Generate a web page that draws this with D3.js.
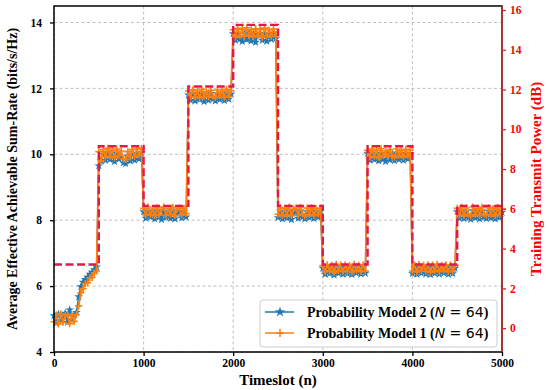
<!doctype html>
<html>

<head>
  <meta charset="utf-8">
  <title>d3</title>
  <style>
    body { margin: 0; background: #fff; }
    svg text { font-family: "Liberation Serif", "Times New Roman", serif; font-weight: bold; }
  </style>
</head>

<body>
  <svg width="549" height="390"></svg>

  <script src="https://d3js.org/d3.v7.min.js"></script>
  <script>
    // timeslots sampled every 25 slots
    const timeslots = d3.range(0, 5001, 25);

    // Probability Model 2 (blue)
    const model2 = [
      5.10, 4.88, 5.15, 4.95, 5.06, 5.18, 4.90, 5.28, 4.97, 5.12, 5.20, 5.68, 5.98, 6.12, 6.20, 6.27, 6.36, 6.42, 6.50, 6.58,
      9.65, 9.80, 10.00, 9.82, 10.05, 9.84, 10.00, 9.78, 10.04, 9.86, 9.92, 9.74, 9.72, 9.95, 9.80, 10.00, 9.82, 10.03, 9.86, 10.05,
      8.26, 8.06, 8.28, 8.10, 8.24, 8.04, 8.28, 8.10, 8.02, 8.26, 8.08, 8.24, 8.06, 8.29, 8.04, 8.22, 8.27, 8.07, 8.25, 8.10,
      11.80, 11.64, 11.84, 11.62, 11.82, 11.66, 11.86, 11.60, 11.81, 11.64, 11.85, 11.68, 11.62, 11.84, 11.66, 11.82, 11.63, 11.86, 11.67, 11.83,
      13.66, 13.46, 13.68, 13.50, 13.42, 13.66, 13.48, 13.69, 13.44, 13.64, 13.40, 13.62, 13.67, 13.46, 13.64, 13.43, 13.66, 13.49, 13.68, 13.51,
      8.08, 8.27, 8.04, 8.26, 8.07, 8.29, 8.02, 8.24, 8.27, 8.06, 8.28, 8.10, 8.04, 8.26, 8.08, 8.28, 8.05, 8.25, 8.09, 8.27,
      6.54, 6.36, 6.58, 6.38, 6.56, 6.34, 6.59, 6.39, 6.55, 6.36, 6.57, 6.38, 6.54, 6.35, 6.58, 6.40, 6.56, 6.37, 6.55, 6.39,
      10.02, 9.82, 10.04, 9.84, 10.00, 9.80, 10.03, 9.85, 9.78, 10.02, 9.83, 10.00, 9.81, 10.04, 9.84, 10.01, 9.82, 10.03, 9.86, 10.02,
      6.38, 6.56, 6.36, 6.58, 6.40, 6.55, 6.37, 6.57, 6.35, 6.56, 6.39, 6.58, 6.37, 6.55, 6.40, 6.57, 6.36, 6.56, 6.38, 6.54,
      8.26, 8.06, 8.28, 8.05, 8.27, 8.08, 8.03, 8.29, 8.07, 8.26, 8.04, 8.28, 8.09, 8.05, 8.27, 8.07, 8.25, 8.04, 8.28, 8.08, 8.24
    ];

    // Probability Model 1 (orange)
    const model1 = [
      4.92, 5.12, 4.85, 5.16, 4.90, 5.10, 5.14, 4.86, 5.10, 4.93, 5.14, 5.40, 5.80, 5.92, 6.08, 6.10, 6.25, 6.26, 6.40, 6.46,
      10.08, 9.80, 10.14, 9.92, 10.18, 9.94, 10.12, 9.90, 10.16, 9.96, 10.10, 9.86, 9.84, 10.08, 9.92, 10.14, 9.94, 10.16, 9.98, 10.18,
      8.36, 8.16, 8.40, 8.18, 8.34, 8.14, 8.38, 8.17, 8.33, 8.40, 8.15, 8.35, 8.18, 8.39, 8.14, 8.34, 8.37, 8.16, 8.36, 8.20,
      11.92, 11.74, 11.96, 11.74, 11.92, 11.72, 11.97, 11.76, 11.90, 11.74, 11.94, 11.76, 11.72, 11.95, 11.77, 11.92, 11.73, 11.97, 11.76, 11.93,
      13.78, 13.56, 13.82, 13.60, 13.79, 13.58, 13.84, 13.61, 13.78, 13.57, 13.81, 13.60, 13.79, 13.55, 13.83, 13.60, 13.77, 13.58, 13.80, 13.62,
      8.18, 8.38, 8.14, 8.36, 8.16, 8.40, 8.14, 8.34, 8.37, 8.15, 8.39, 8.19, 8.13, 8.37, 8.17, 8.38, 8.14, 8.35, 8.18, 8.37,
      6.62, 6.44, 6.65, 6.46, 6.63, 6.42, 6.66, 6.47, 6.64, 6.44, 6.65, 6.45, 6.62, 6.43, 6.66, 6.48, 6.63, 6.44, 6.64, 6.46,
      10.12, 9.92, 10.16, 9.94, 10.12, 9.90, 10.17, 9.96, 10.10, 9.93, 10.14, 9.95, 9.91, 10.16, 9.97, 10.12, 9.92, 10.15, 9.96, 10.13,
      6.46, 6.64, 6.43, 6.66, 6.47, 6.63, 6.45, 6.65, 6.42, 6.64, 6.47, 6.66, 6.44, 6.63, 6.48, 6.65, 6.44, 6.64, 6.46, 6.62,
      8.36, 8.16, 8.39, 8.14, 8.37, 8.18, 8.13, 8.40, 8.17, 8.36, 8.14, 8.39, 8.19, 8.15, 8.38, 8.17, 8.35, 8.14, 8.39, 8.18, 8.34
    ];

    // training transmit power (dB), one level per 500-slot block
    const powerSlots = [0, 500, 1000, 1500, 2000, 2500, 3000, 3500, 4000, 4500, 5000];
    const powerDb = [3.2, 9.15, 6.15, 12.15, 15.25, 6.15, 3.2, 9.15, 3.2, 6.15, 6.15];

    const xTicks = [0, 1000, 2000, 3000, 4000, 5000];
    const yLeftTicks = [4, 6, 8, 10, 12, 14];
    const yRightTicks = [0, 2, 4, 6, 8, 10, 12, 14, 16];

    const svg = d3.select('svg');
    const margin = { top: 6, left: 54, bottom: 38, right: 47 };
    const width = +svg.attr('width') - margin.left - margin.right;
    const height = +svg.attr('height') - margin.top - margin.bottom;
    const g = svg.append('g').attr('transform', `translate(${margin.left}, ${margin.top})`);

    const x = d3.scaleLinear().domain([0, 5000]).range([0, width]);
    const y = d3.scaleLinear().domain([4, 14.5]).range([height, 0]);
    const y2 = d3.scaleLinear().domain([-1.2, 16.2]).range([height, 0]);

    const red = '#e31a48';

    // grid
    g.append('g').selectAll('line').data(xTicks).join('line')
      .attr('x1', d => x(d)).attr('x2', d => x(d))
      .attr('y1', 0).attr('y2', height)
      .attr('stroke', '#b0b0b0').attr('stroke-width', 0.8).attr('stroke-dasharray', '3,2.5');
    g.append('g').selectAll('line').data(yLeftTicks).join('line')
      .attr('x1', 0).attr('x2', width)
      .attr('y1', d => y(d)).attr('y2', d => y(d))
      .attr('stroke', '#b0b0b0').attr('stroke-width', 0.8).attr('stroke-dasharray', '3,2.5');

    const line = d3.line()
      .x((d, i) => x(timeslots[i]))
      .y(d => y(d));

    const star = d3.symbol().type(d3.symbolStar).size(24);

    // model 2: blue line with stars
    g.append('path')
      .datum(model2)
      .attr('fill', 'none')
      .attr('stroke', '#1f77b4')
      .attr('stroke-width', 1.5)
      .attr('d', line);
    g.append('g').selectAll('path').data(model2).join('path')
      .attr('transform', (d, i) => `translate(${x(timeslots[i])}, ${y(d)})`)
      .attr('d', star)
      .attr('fill', '#1f77b4');

    // model 1: orange line with plus markers
    g.append('path')
      .datum(model1)
      .attr('fill', 'none')
      .attr('stroke', '#ff7f0e')
      .attr('stroke-width', 1.8)
      .attr('d', line);
    g.append('g').selectAll('path').data(model1).join('path')
      .attr('transform', (d, i) => `translate(${x(timeslots[i])}, ${y(d)})`)
      .attr('d', 'M-3.5,0H3.5M0,-3.5V3.5')
      .attr('stroke', '#ff7f0e')
      .attr('stroke-width', 1.6);

    // power (right axis), red dashed step
    const powerLine = d3.line()
      .x((d, i) => x(powerSlots[i]))
      .y(d => y2(d))
      .curve(d3.curveStepAfter);
    g.append('path')
      .datum(powerDb)
      .attr('fill', 'none')
      .attr('stroke', red)
      .attr('stroke-width', 2.4)
      .attr('stroke-dasharray', '8,3.5')
      .attr('d', powerLine);

    // frame
    g.append('rect')
      .attr('width', width).attr('height', height)
      .attr('fill', 'none').attr('stroke', '#000').attr('stroke-width', 1.5);

    // axes
    const axX = g.append('g')
      .attr('transform', `translate(0, ${height})`)
      .call(d3.axisBottom(x).tickValues(xTicks).tickFormat(d3.format('d')).tickSize(4).tickPadding(3));
    const axY = g.append('g')
      .call(d3.axisLeft(y).tickValues(yLeftTicks).tickSize(4).tickPadding(8));
    const axY2 = g.append('g')
      .attr('transform', `translate(${width}, 0)`)
      .call(d3.axisRight(y2).tickValues(yRightTicks).tickSize(4).tickPadding(4));

    [axX, axY, axY2].forEach(a => {
      a.select('.domain').remove();
      a.selectAll('text').style('font-size', '11.5px').attr('fill', '#000');
      a.selectAll('line').attr('stroke-width', 1.3).attr('stroke', '#000');
    });
    axY2.selectAll('text').attr('fill', 'red');
    axY2.selectAll('line').attr('stroke', red);
    g.append('line')
      .attr('x1', width).attr('x2', width).attr('y1', 0).attr('y2', height)
      .attr('stroke', '#d03030').attr('stroke-width', 1.5);

    // axis labels
    svg.append('text')
      .attr('transform', `translate(17, ${margin.top + height / 2}) rotate(-90)`)
      .attr('text-anchor', 'middle')
      .style('font-size', '14px')
      .text('Average Effective Achievable Sum-Rate (bits/s/Hz)');
    svg.append('text')
      .attr('transform', `translate(541, ${margin.top + height / 2}) rotate(-90)`)
      .attr('text-anchor', 'middle')
      .attr('fill', 'red')
      .style('font-size', '15px')
      .text('Training Transmit Power (dB)');
    svg.append('text')
      .attr('x', margin.left + width / 2)
      .attr('y', 385)
      .attr('text-anchor', 'middle')
      .style('font-size', '15px')
      .text('Timeslot (n)');

    // legend
    const lw = 237, lh = 47;
    const lx = width - 5 - lw, ly = height - 5 - lh;
    const lg = g.append('g').attr('transform', `translate(${lx}, ${ly})`);
    lg.append('rect')
      .attr('width', lw).attr('height', lh).attr('rx', 3)
      .attr('fill', 'rgba(255,255,255,0.85)').attr('stroke', '#cccccc').attr('stroke-width', 1);

    const items = [
      { name: 'Probability Model 2', color: '#1f77b4', marker: 'star' },
      { name: 'Probability Model 1', color: '#ff7f0e', marker: 'plus' }
    ];
    items.forEach((it, i) => {
      const cy = 12 + i * 21;
      lg.append('line')
        .attr('x1', 5).attr('x2', 34).attr('y1', cy).attr('y2', cy)
        .attr('stroke', it.color).attr('stroke-width', 1.5);
      if (it.marker === 'star') {
        lg.append('path').attr('transform', `translate(20, ${cy})`)
          .attr('d', d3.symbol().type(d3.symbolStar).size(34)).attr('fill', it.color);
      } else {
        lg.append('path').attr('transform', `translate(20, ${cy})`)
          .attr('d', 'M-4,0H4M0,-4V4').attr('stroke', it.color).attr('stroke-width', 1.5);
      }
      const t = lg.append('text')
        .attr('x', 47).attr('y', cy + 5)
        .style('font-size', '14px');
      t.append('tspan').text(it.name + ' (');
      t.append('tspan').style('font-family', '"DejaVu Sans"').style('font-style', 'italic')
        .style('font-weight', 'normal').text('N');
      t.append('tspan').style('font-family', '"DejaVu Sans"').style('font-weight', 'normal')
        .text(' = 64');
      t.append('tspan').text(')');
    });
  </script>
</body>

</html>
